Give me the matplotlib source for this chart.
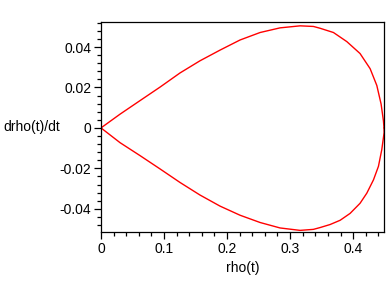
import matplotlib
matplotlib.use("Agg")
import matplotlib.pyplot as plt
from matplotlib.ticker import MultipleLocator

plt.rcParams['font.family'] = ['Liberation Sans', 'DejaVu Sans']

# upper branch (rho, drho/dt)
rho_up = [0.0, 0.0302, 0.0619, 0.0937, 0.1254, 0.157, 0.1889, 0.2206, 0.2524, 0.2841,
          0.3159, 0.337, 0.3476, 0.3688, 0.390, 0.411, 0.427, 0.4376, 0.4444, 0.4481, 0.449]
drho_up = [0.0, 0.0068, 0.0135, 0.0202, 0.0272, 0.0332, 0.0385, 0.0435, 0.0472, 0.0495,
           0.0505, 0.0502, 0.0493, 0.0472, 0.0427, 0.0368, 0.0293, 0.0210, 0.0118, 0.0035, 0.0]
# lower branch
rho_lo = [0.449, 0.4492, 0.4455, 0.4402, 0.4323, 0.4217, 0.411, 0.3952, 0.3794, 0.3635,
          0.3476, 0.337, 0.3159, 0.2841, 0.2524, 0.2206, 0.1889, 0.157, 0.1254, 0.0937,
          0.0619, 0.0302, 0.0]
drho_lo = [0.0, -0.0023, -0.0107, -0.0190, -0.0257, -0.0323, -0.0373, -0.0423, -0.0457, -0.0478,
           -0.0493, -0.0502, -0.0507, -0.0495, -0.0468, -0.0432, -0.0387, -0.0332, -0.0270, -0.0203,
           -0.0137, -0.0073, 0.0]

fig = plt.figure(figsize=(3.88, 2.88), dpi=100)
ax = fig.add_axes([101/388, 56/288, 283/388, 210/288])

ax.plot(rho_up, drho_up, color='red', lw=1.0)
ax.plot(rho_lo, drho_lo, color='red', lw=1.0)

ax.set_xlim(0, 0.449)
ax.set_ylim(-0.0515, 0.0524)
ax.xaxis.set_minor_locator(MultipleLocator(0.02))
ax.yaxis.set_minor_locator(MultipleLocator(0.004))
ax.set_xticks([0, 0.1, 0.2, 0.3, 0.4])
ax.set_xticklabels(['0', '0.1', '0.2', '0.3', '0.4'])
ax.set_yticks([-0.04, -0.02, 0, 0.02, 0.04])
ax.set_yticklabels(['-0.04', '-0.02', '0', '0.02', '0.04'])

for s in ax.spines.values():
    s.set_linewidth(0.9)
ax.tick_params(which='major', length=5, width=0.9, labelsize=10, pad=2)
ax.tick_params(which='minor', length=3, width=0.9)

ax.set_xlabel('rho(t)', fontsize=10, labelpad=4)
ax.set_ylabel('drho(t)/dt', fontsize=10, rotation=0, ha='left', va='center')
ax.yaxis.set_label_coords(-98/283, 1 - (127 - 22) / 210)

fig.savefig('out.png', dpi=100)
